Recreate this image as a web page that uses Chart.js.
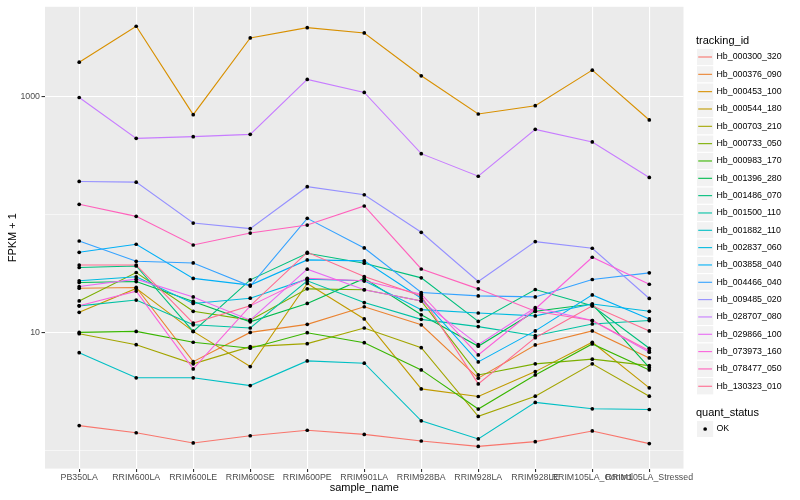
<!DOCTYPE html>
<html>
<head>
<meta charset="utf-8">
<script src="https://cdn.jsdelivr.net/npm/chart.js@4.4.1/dist/chart.umd.min.js"></script>
<style>
  body { margin: 0; background: #fff; }
  canvas { display: block; }
</style>
</head>
<body>
<canvas id="myChart" width="800" height="500"></canvas>
<script>
// muestras (eje x)
const samples = ['PB350LA', 'RRIM600LA', 'RRIM600LE', 'RRIM600SE', 'RRIM600PE', 'RRIM901LA',
  'RRIM928BA', 'RRIM928LA', 'RRIM928LE', 'RRIM105LA_Control', 'RRIM105LA_Stressed'];

const trackingIds = ['Hb_000300_320', 'Hb_000376_090', 'Hb_000453_100', 'Hb_000544_180', 'Hb_000703_210',
  'Hb_000733_050', 'Hb_000983_170', 'Hb_001396_280', 'Hb_001486_070', 'Hb_001500_110', 'Hb_001882_110',
  'Hb_002837_060', 'Hb_003858_040', 'Hb_004466_040', 'Hb_009485_020', 'Hb_028707_080', 'Hb_029866_100',
  'Hb_073973_160', 'Hb_078477_050', 'Hb_130323_010'];

const colores = ['#F8766D', '#EA8331', '#D89000', '#C09B00', '#A3A500', '#7CAE00', '#39B600', '#00BB4E',
  '#00BF7D', '#00C1A3', '#00BFC4', '#00BAE0', '#00B0F6', '#35A2FF', '#9590FF', '#C77CFF', '#E76BF3',
  '#FA62DB', '#FF62BC', '#FF6C91'];

// FPKM + 1, una lista por gen
const Hb_000300_320 = [1.62, 1.41, 1.155, 1.33, 1.48, 1.365, 1.20, 1.08, 1.185, 1.46, 1.14];
const Hb_000376_090 = [23.7, 24.05, 5.65, 10.0, 11.7, 16.5, 11.6, 4.09, 7.83, 10.3, 6.08];
const Hb_000453_100 = [1957, 3945, 702, 3141, 3838, 3460, 1500, 711, 836, 1675, 633];
const Hb_000544_180 = [14.8, 23.6, 10.2, 5.13, 26.0, 13.0, 3.32, 2.86, 4.65, 8.25, 3.39];
const Hb_000703_210 = [9.75, 7.87, 5.41, 7.57, 8.03, 10.9, 7.42, 1.94, 2.88, 5.41, 2.88];
const Hb_000733_050 = [18.5, 32.2, 15.1, 12.7, 23.4, 23.0, 18.5, 4.36, 5.41, 5.93, 5.23];
const Hb_000983_170 = [10.0, 10.2, 8.25, 7.34, 9.94, 8.18, 4.81, 2.24, 4.36, 7.98, 4.81];
const Hb_001396_280 = [26.5, 27.0, 18.3, 12.3, 17.6, 28.7, 14.1, 7.63, 15.1, 17.4, 5.03];
const Hb_001486_070 = [35.5, 36.6, 10.2, 27.9, 46.9, 38.6, 29.0, 12.4, 23.1, 16.8, 7.34];
const Hb_001500_110 = [16.8, 18.8, 11.6, 10.9, 27.4, 17.9, 12.9, 11.2, 9.38, 11.8, 12.6];
const Hb_001882_110 = [6.73, 4.12, 4.12, 3.54, 5.73, 5.48, 1.78, 1.25, 2.55, 2.25, 2.22];
const Hb_002837_060 = [27.4, 29.6, 17.6, 19.5, 28.3, 27.4, 15.6, 14.6, 13.8, 17.4, 15.1];
const Hb_003858_040 = [47.8, 55.9, 28.7, 25.2, 41.2, 40.4, 19.5, 5.62, 10.3, 20.8, 13.0];
const Hb_004466_040 = [59.6, 40.1, 38.8, 24.7, 92.7, 52.0, 21.8, 20.4, 20.0, 28.1, 32.0];
const Hb_009485_020 = [190.5, 188, 84.6, 75.9, 172, 147, 70.6, 27.0, 58.9, 51.7, 19.4];
const Hb_028707_080 = [982, 442, 457, 478, 1396, 1083, 328, 211, 527, 412, 206];
const Hb_029866_100 = [24.5, 28.3, 20.0, 12.7, 34.4, 23.0, 18.5, 7.87, 16.2, 12.6, 6.79];
const Hb_073973_160 = [16.8, 22.4, 4.90, 16.8, 28.8, 27.4, 21.1, 6.44, 15.8, 43.4, 25.6];
const Hb_078477_050 = [122, 96.4, 55.1, 69.6, 81.3, 118, 34.5, 23.4, 15.1, 12.6, 7.0];
const Hb_130323_010 = [37.3, 37.3, 12.0, 16.8, 47.8, 29.8, 20.4, 3.66, 9.02, 16.8, 10.3];

const series = [Hb_000300_320, Hb_000376_090, Hb_000453_100, Hb_000544_180, Hb_000703_210,
  Hb_000733_050, Hb_000983_170, Hb_001396_280, Hb_001486_070, Hb_001500_110, Hb_001882_110,
  Hb_002837_060, Hb_003858_040, Hb_004466_040, Hb_009485_020, Hb_028707_080, Hb_029866_100,
  Hb_073973_160, Hb_078477_050, Hb_130323_010];

const yTicks = [1, 10, 100, 1000];
const yLabels = ['', '10', '', '1000'];

const fuente = "'Liberation Sans', Arial, sans-serif";

let datasets = series.map((vals, k) => ({
    type: 'line',
    label: trackingIds[k],
    data: vals.map((v, i) => ({ x: i, y: v })),
    borderColor: colores[k],
    borderWidth: 1.1,
    pointRadius: 0,
    fill: false,
    tension: 0,
    order: 100 - k
}));

// los puntos negros encima de todas las lineas
let puntos = [];
series.forEach(vals => vals.forEach((v, i) => puntos.push({ x: i, y: v })));
datasets.push({
    type: 'scatter',
    label: 'OK',
    data: puntos,
    backgroundColor: '#000',
    borderColor: '#000',
    borderWidth: 0,
    pointRadius: 1.85,
    order: 0
});

const fondoPanel = {
    id: 'fondoPanel',
    beforeDraw(chart) {
        const { ctx, chartArea: a } = chart;
        ctx.save();
        ctx.fillStyle = '#fff';
        ctx.fillRect(0, 0, chart.width, chart.height);
        ctx.fillStyle = '#EBEBEB';
        ctx.fillRect(a.left, a.top, a.right - a.left, a.bottom - a.top);
        ctx.restore();
    }
};

const leyenda = {
    id: 'leyenda',
    afterDraw(chart) {
        const ctx = chart.ctx;
        const x0 = 696.5, key = 17.28;
        ctx.save();
        ctx.fillStyle = '#000';
        ctx.textBaseline = 'middle';
        ctx.font = '11px ' + fuente;
        ctx.fillText('tracking_id', 696, 40.5);
        ctx.font = '8.8px ' + fuente;
        for (let k = 0; k < trackingIds.length; k++) {
            const cy = 57 + 17.33 * k;
            ctx.fillStyle = '#F2F2F2';
            ctx.fillRect(x0, cy - key / 2, key, key);
            ctx.strokeStyle = '#fff';
            ctx.lineWidth = 1;
            ctx.strokeRect(x0, cy - key / 2, key, key);
            ctx.strokeStyle = colores[k];
            ctx.lineWidth = 1.1;
            ctx.beginPath();
            ctx.moveTo(x0 + key * 0.1, cy);
            ctx.lineTo(x0 + key * 0.9, cy);
            ctx.stroke();
            ctx.fillStyle = '#000';
            ctx.fillText(trackingIds[k], 716.5, cy);
        }
        ctx.font = '11px ' + fuente;
        ctx.fillText('quant_status', 696, 412.5);
        const cy = 429;
        ctx.fillStyle = '#F2F2F2';
        ctx.fillRect(x0, cy - key / 2, key, key);
        ctx.strokeStyle = '#fff';
        ctx.strokeRect(x0, cy - key / 2, key, key);
        ctx.fillStyle = '#000';
        ctx.beginPath();
        ctx.arc(x0 + key / 2, cy, 1.85, 0, Math.PI * 2);
        ctx.fill();
        ctx.font = '8.8px ' + fuente;
        ctx.fillText('OK', 716.5, cy);
        ctx.restore();
    }
};

const ctx = document.getElementById('myChart').getContext('2d');
const myChart = new Chart(ctx, {
    data: { datasets: datasets },
    plugins: [fondoPanel, leyenda],
    options: {
        responsive: false,
        animation: false,
        devicePixelRatio: 1,
        layout: { padding: { top: 6.8, right: 116.5, bottom: 0, left: 0 } },
        plugins: { legend: { display: false }, tooltip: { enabled: false } },
        scales: {
            x: {
                type: 'linear',
                min: -0.6,
                max: 10.6,
                afterBuildTicks: (scale) => { scale.ticks = samples.map((s, i) => ({ value: i })); },
                afterFit: (scale) => { scale.height = 31.4; },
                ticks: {
                    autoSkip: false,
                    maxRotation: 0,
                    minRotation: 0,
                    padding: 0,
                    color: '#4D4D4D',
                    font: { family: fuente, size: 8.8 },
                    callback: (v) => samples[Math.round(v)]
                },
                grid: {
                    color: '#fff',
                    lineWidth: 1.1,
                    tickLength: 3.5,
                    tickColor: '#333'
                },
                border: { display: false },
                title: {
                    display: true,
                    text: 'sample_name',
                    color: '#000',
                    font: { family: fuente, size: 11 },
                    padding: { top: 0, bottom: 5.4 }
                }
            },
            y: {
                type: 'logarithmic',
                min: 0.72,
                max: 5768,
                afterBuildTicks: (scale) => { scale.ticks = yTicks.map(v => ({ value: v })); },
                afterFit: (scale) => { scale.width = 45; },
                ticks: {
                    padding: 1.5,
                    color: '#4D4D4D',
                    font: { family: fuente, size: 8.8 },
                    callback: (v, i) => yLabels[i]
                },
                grid: {
                    color: '#fff',
                    lineWidth: (c) => (c.tick && (c.tick.value === 10 || c.tick.value === 1000)) ? 1.1 : 0.55,
                    tickLength: 3.5,
                    tickColor: (c) => (c.tick && (c.tick.value === 10 || c.tick.value === 1000)) ? '#333' : 'rgba(0,0,0,0)'
                },
                border: { display: false },
                title: {
                    display: true,
                    text: 'FPKM + 1',
                    color: '#000',
                    font: { family: fuente, size: 11 },
                    padding: { top: 6.4, bottom: 0 }
                }
            }
        }
    }
});
</script>
</body>
</html>
